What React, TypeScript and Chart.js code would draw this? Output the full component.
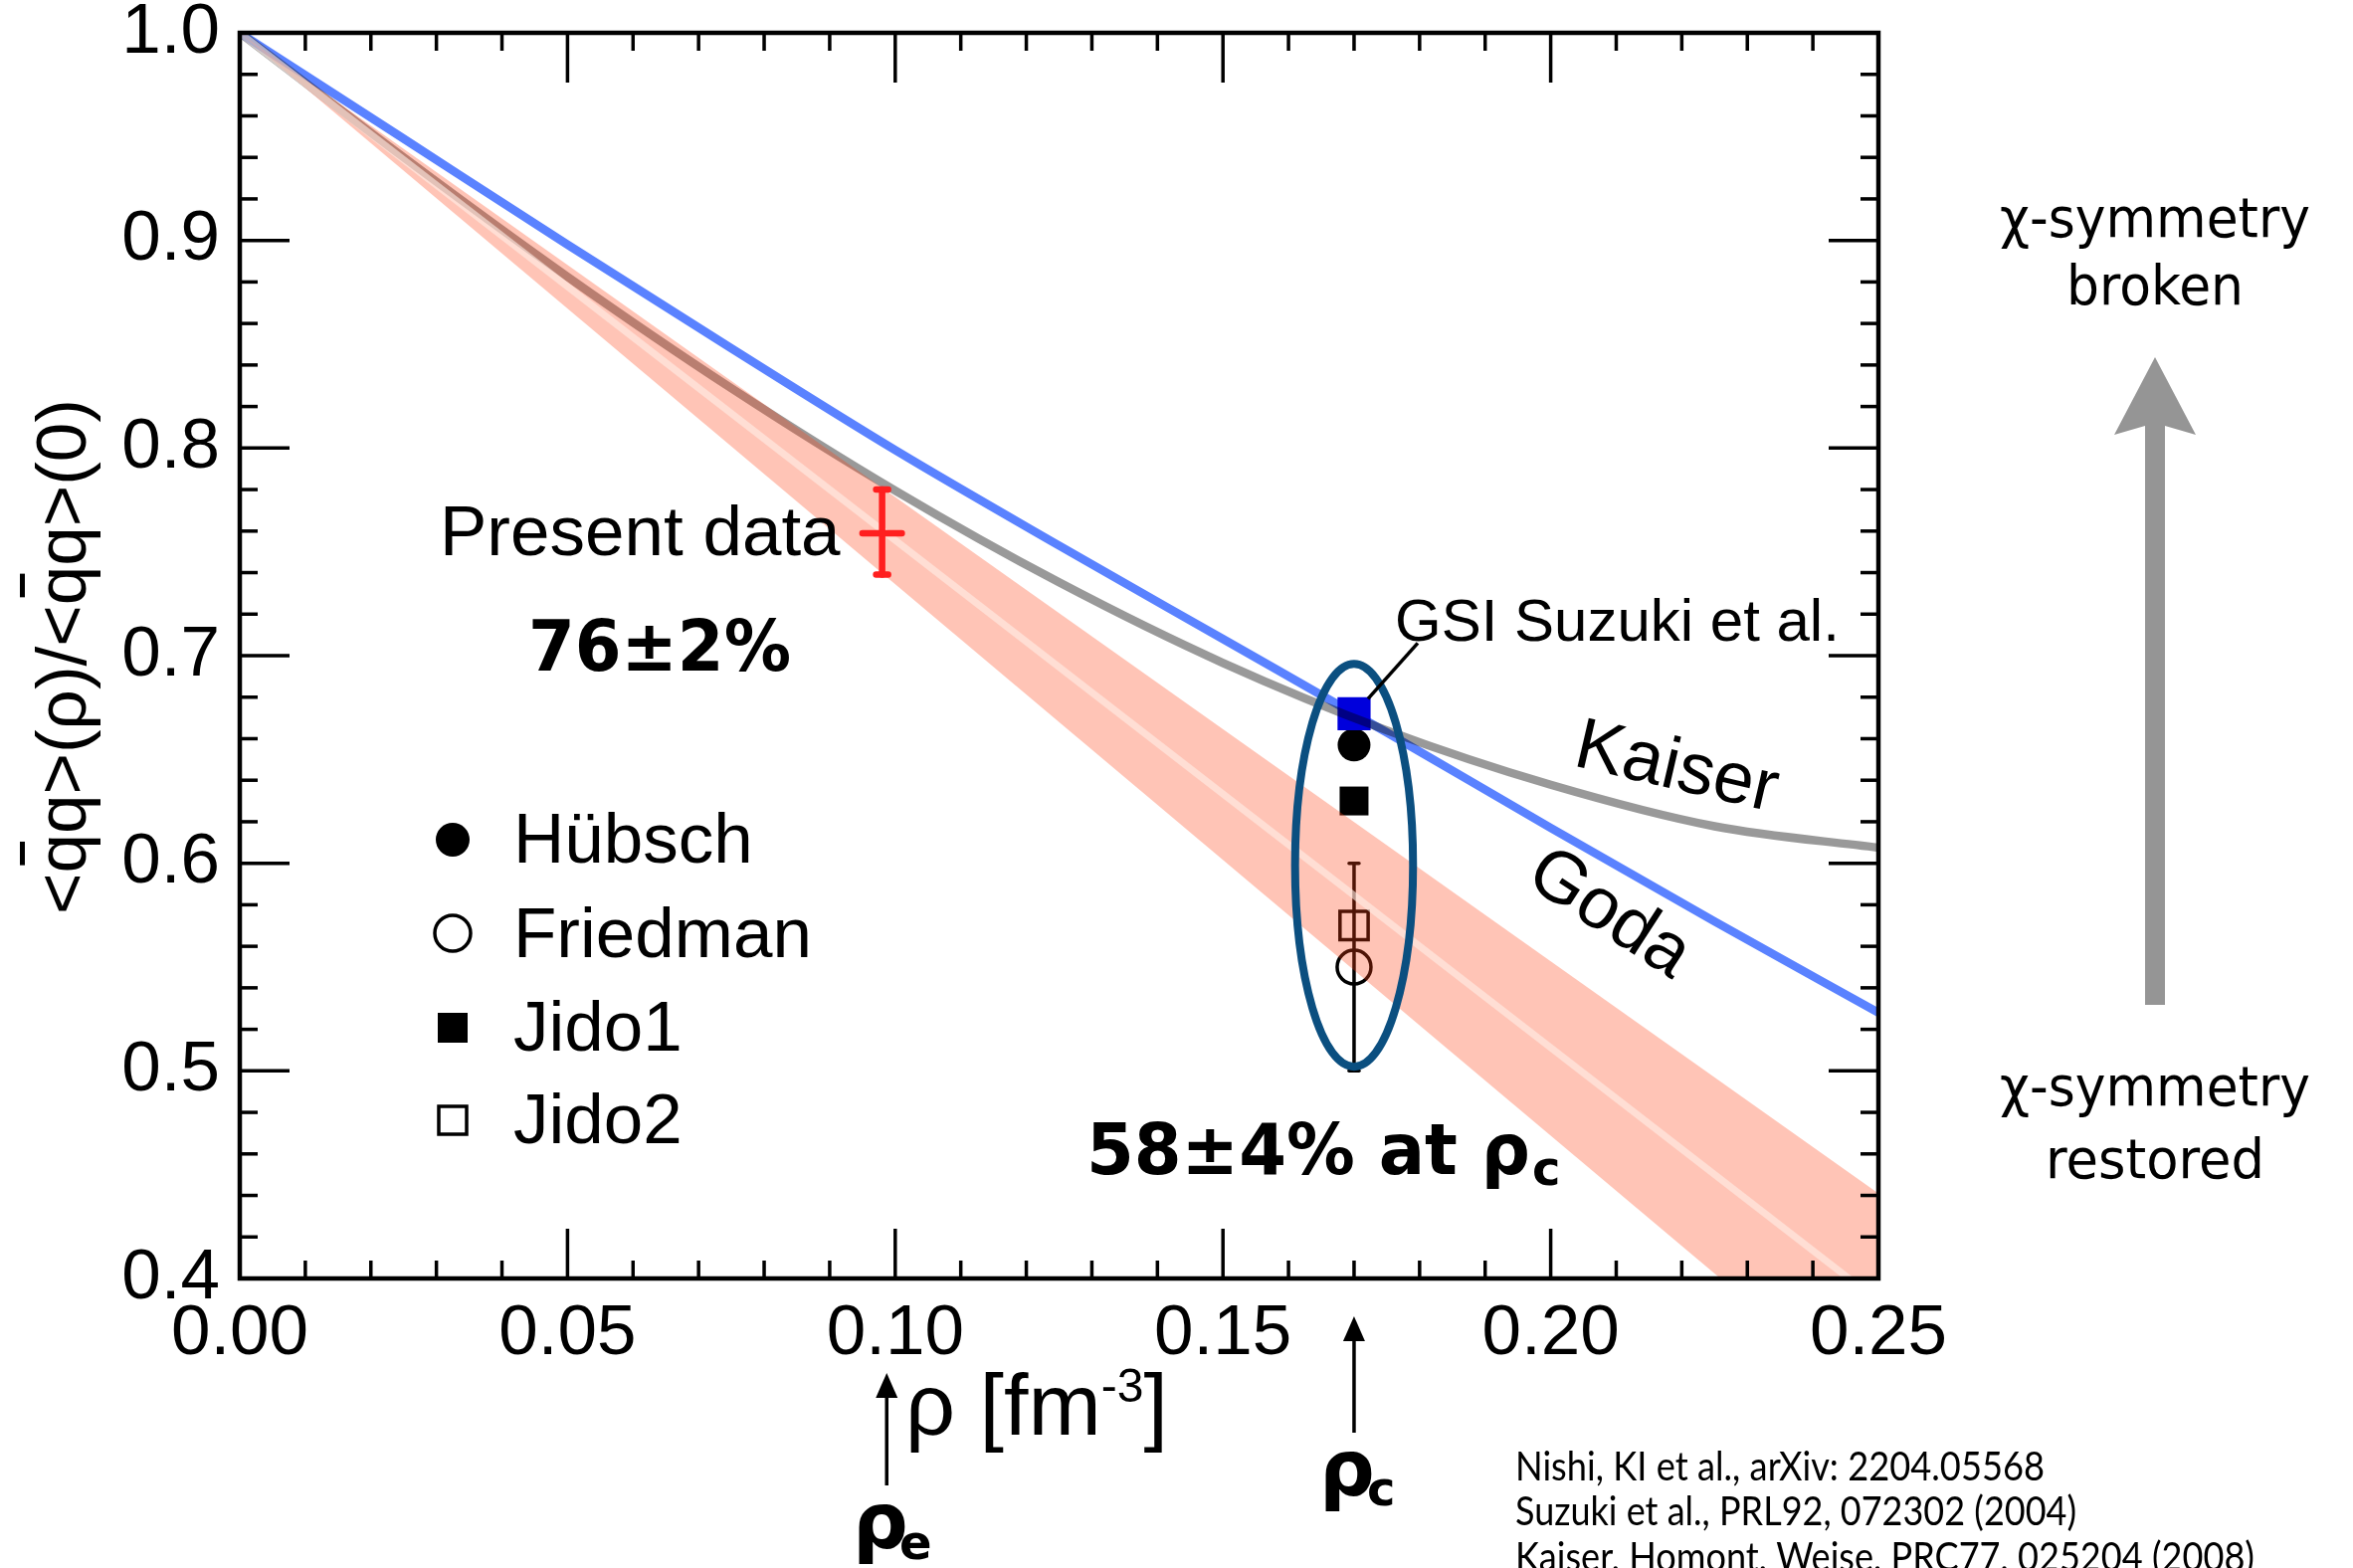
import React, { useEffect, useRef } from 'react';
import { Chart, registerables } from 'chart.js';

Chart.register(...registerables);

// ---------------- data ----------------
const curveRho = [0, 0.025, 0.05, 0.075, 0.1, 0.125, 0.15, 0.175, 0.2, 0.225, 0.25];
const godaValues = [1.0, 0.949, 0.898, 0.848, 0.799, 0.753, 0.708, 0.663, 0.617, 0.572, 0.528];
const kaiserValues = [1.0, 0.94, 0.8825, 0.8288, 0.7795, 0.7353, 0.6965, 0.664, 0.6378, 0.6178, 0.6075];
const bandRho = [0, 0.25];
const bandUpper = [1.0, 0.441];
const bandCenter = [1.0, 0.389];
const bandLower = [1.0, 0.336];
const rhoC = 0.17;
const rhoE = 0.0987;
const gsiSuzuki = [0.672];
const hubsch = [0.657];
const jido1 = [0.63];
const jido2 = [0.57];
const friedman = [0.55];
const friedmanErr = [0.5, 0.6];
const presentData = [0.098, 0.759];
const presentErrRho = [0.095, 0.101];
const presentErrValue = [0.739, 0.78];
const ellipseCenter = [0.17, 0.599];
const ellipseHalf = [0.009, 0.097];
const xTickValues = [0, 0.05, 0.1, 0.15, 0.2, 0.25];
const yTickValues = [0.4, 0.5, 0.6, 0.7, 0.8, 0.9, 1.0];
const xMinorTicks = [0.01, 0.02, 0.03, 0.04, 0.06, 0.07, 0.08, 0.09, 0.11, 0.12, 0.13, 0.14, 0.16, 0.17, 0.18, 0.19, 0.21, 0.22, 0.23, 0.24];
const yMinorTicks = [0.42, 0.44, 0.46, 0.48, 0.52, 0.54, 0.56, 0.58, 0.62, 0.64, 0.66, 0.68, 0.72, 0.74, 0.76, 0.78, 0.82, 0.84, 0.86, 0.88, 0.92, 0.94, 0.96, 0.98];
const legendNames = ['Hübsch', 'Friedman', 'Jido1', 'Jido2'];
const legendKinds = ['circleFilled', 'circleOpen', 'squareFilled', 'squareOpen'];
const references = [
  'Nishi, KI et al., arXiv: 2204.05568',
  'Suzuki et al., PRL92, 072302 (2004)',
  'Kaiser, Homont, Weise, PRC77, 025204 (2008)',
];

const SANS = '"Liberation Sans", Arial, Helvetica, sans-serif';
const BOLD = 'bold 72px "DejaVu Sans", sans-serif';

const pts = (xs: number[], ys: number[]) => xs.map((x, i) => ({ x, y: ys[i] }));

function line(ctx: CanvasRenderingContext2D, x1: number, y1: number, x2: number, y2: number) {
  ctx.beginPath();
  ctx.moveTo(x1, y1);
  ctx.lineTo(x2, y2);
  ctx.stroke();
}

function fitText(ctx: CanvasRenderingContext2D, text: string, x: number, y: number, width: number, font: string, align: CanvasTextAlign = 'left') {
  ctx.save();
  ctx.font = font;
  const w = ctx.measureText(text).width;
  ctx.translate(x, y);
  ctx.scale(width / w, 1);
  ctx.textAlign = align;
  ctx.textBaseline = 'alphabetic';
  ctx.fillText(text, 0, 0);
  ctx.restore();
}

function arrowUp(ctx: CanvasRenderingContext2D, x: number, yTip: number, yBottom: number) {
  ctx.save();
  ctx.strokeStyle = '#000';
  ctx.fillStyle = '#000';
  ctx.lineWidth = 3.5;
  line(ctx, x, yTip + 15, x, yBottom);
  ctx.beginPath();
  ctx.moveTo(x, yTip);
  ctx.lineTo(x - 11, yTip + 25);
  ctx.lineTo(x + 11, yTip + 25);
  ctx.closePath();
  ctx.fill();
  ctx.restore();
}

function marker(ctx: CanvasRenderingContext2D, kind: string, x: number, y: number) {
  ctx.save();
  ctx.fillStyle = '#000';
  ctx.strokeStyle = '#000';
  ctx.lineWidth = 3.5;
  if (kind === 'circleFilled') {
    ctx.beginPath(); ctx.arc(x, y, 17, 0, Math.PI * 2); ctx.fill();
  } else if (kind === 'circleOpen') {
    ctx.beginPath(); ctx.arc(x, y, 18, 0, Math.PI * 2); ctx.stroke();
  } else if (kind === 'squareFilled') {
    ctx.fillRect(x - 15, y - 15, 30, 30);
  } else {
    ctx.strokeRect(x - 14, y - 14, 28, 28);
  }
  ctx.restore();
}

const overlay = {
  id: 'overlay',
  beforeDatasetsDraw(chart: any) {
    const ctx: CanvasRenderingContext2D = chart.ctx;
    const xs = chart.scales.x;
    const ys = chart.scales.y;
    const x = xs.getPixelForValue(rhoC);
    const y0 = ys.getPixelForValue(friedmanErr[0]);
    const y1 = ys.getPixelForValue(friedmanErr[1]);
    ctx.save();
    ctx.strokeStyle = '#000';
    ctx.lineWidth = 3.5;
    ctx.lineCap = 'round';
    line(ctx, x, y0, x, y1);
    line(ctx, x - 5, y0, x + 5, y0);
    line(ctx, x - 5, y1, x + 5, y1);
    ctx.restore();
  },
  afterDatasetsDraw(chart: any) {
    const ctx: CanvasRenderingContext2D = chart.ctx;
    const xs = chart.scales.x;
    const ys = chart.scales.y;
    // ellipse
    const cx = xs.getPixelForValue(ellipseCenter[0]);
    const cy = ys.getPixelForValue(ellipseCenter[1]);
    const rx = xs.getPixelForValue(ellipseCenter[0] + ellipseHalf[0]) - cx;
    const ry = ys.getPixelForValue(ellipseCenter[1] - ellipseHalf[1]) - cy;
    ctx.save();
    ctx.strokeStyle = '#0b4f80';
    ctx.lineWidth = 8;
    ctx.beginPath();
    ctx.ellipse(cx, cy, rx, ry, 0, 0, Math.PI * 2);
    ctx.stroke();
    // present data (red)
    ctx.strokeStyle = '#ff1f1f';
    ctx.lineWidth = 6.5;
    ctx.lineCap = 'round';
    const px = xs.getPixelForValue(presentData[0]);
    const py = ys.getPixelForValue(presentData[1]);
    const pyLo = ys.getPixelForValue(presentErrValue[0]);
    const pyHi = ys.getPixelForValue(presentErrValue[1]);
    line(ctx, px, pyLo, px, pyHi);
    line(ctx, px - 6, pyLo, px + 6, pyLo);
    line(ctx, px - 6, pyHi, px + 6, pyHi);
    line(ctx, xs.getPixelForValue(presentErrRho[0]), py, xs.getPixelForValue(presentErrRho[1]), py);
    // GSI pointer
    const gx = xs.getPixelForValue(rhoC);
    const gy = ys.getPixelForValue(gsiSuzuki[0]);
    ctx.strokeStyle = '#000';
    ctx.lineWidth = 3.5;
    ctx.lineCap = 'butt';
    line(ctx, gx + 14, gy - 15, gx + 64, gy - 71);
    ctx.restore();
  },
  afterDraw(chart: any) {
    const ctx: CanvasRenderingContext2D = chart.ctx;
    const xs = chart.scales.x;
    const ys = chart.scales.y;
    const { left, right, top, bottom } = chart.chartArea;
    ctx.save();
    // frame
    ctx.strokeStyle = '#000';
    ctx.lineWidth = 4.5;
    ctx.strokeRect(left, top, right - left, bottom - top);
    ctx.lineWidth = 3.5;
    for (const v of xTickValues) {
      const p = xs.getPixelForValue(v);
      line(ctx, p, bottom, p, bottom - 50);
      line(ctx, p, top, p, top + 50);
    }
    for (const v of xMinorTicks) {
      const p = xs.getPixelForValue(v);
      line(ctx, p, bottom, p, bottom - 18);
      line(ctx, p, top, p, top + 18);
    }
    for (const v of yTickValues) {
      const p = ys.getPixelForValue(v);
      line(ctx, left, p, left + 50, p);
      line(ctx, right, p, right - 50, p);
    }
    for (const v of yMinorTicks) {
      const p = ys.getPixelForValue(v);
      line(ctx, left, p, left + 18, p);
      line(ctx, right, p, right - 18, p);
    }

    ctx.fillStyle = '#000';
    ctx.textBaseline = 'alphabetic';
    ctx.textAlign = 'left';

    // y title with overlines
    ctx.save();
    ctx.translate(86, 660);
    ctx.rotate(-Math.PI / 2);
    ctx.font = `71px ${SANS}`;
    const yt = '<qq>(ρ)/<qq>(0)';
    const W = ctx.measureText(yt).width;
    const x0 = -W / 2;
    ctx.fillText(yt, x0, 0);
    for (const idx of [1, 9]) {
      const a = ctx.measureText(yt.slice(0, idx)).width;
      const b = ctx.measureText(yt.slice(0, idx + 1)).width;
      ctx.fillRect(x0 + a + 0.2 * (b - a), -66, 0.6 * (b - a), 5);
    }
    ctx.restore();

    // x title
    ctx.font = `88px ${SANS}`;
    let tx = 910;
    ctx.fillText('ρ [fm', tx, 1442);
    tx += ctx.measureText('ρ [fm').width;
    ctx.font = `48px ${SANS}`;
    ctx.fillText('-3', tx, 1409);
    tx += ctx.measureText('-3').width;
    ctx.font = `88px ${SANS}`;
    ctx.fillText(']', tx, 1442);

    // arrows below axis
    arrowUp(ctx, xs.getPixelForValue(rhoE), 1380, 1493);
    arrowUp(ctx, xs.getPixelForValue(rhoC), 1323, 1440);
    ctx.font = 'bold 78px "DejaVu Sans", sans-serif';
    ctx.fillText('ρ', 857, 1556);
    ctx.fillText('ρ', 1326, 1503);
    ctx.font = 'bold 48px "DejaVu Sans", sans-serif';
    ctx.fillText('e', 904, 1567);
    ctx.fillText('c', 1374, 1513);

    // in-plot annotations
    ctx.font = `71px ${SANS}`;
    ctx.fillText('Present data', 442, 558);
    fitText(ctx, '76±2%', 531, 674, 264, BOLD);
    fitText(ctx, '58±4% at ρ', 1092, 1180, 446, BOLD);
    ctx.font = 'bold 48px "DejaVu Sans", sans-serif';
    ctx.fillText('c', 1540, 1191);
    ctx.font = `60px ${SANS}`;
    ctx.fillText('GSI Suzuki et al.', 1402, 644);

    // rotated curve labels
    ctx.font = `73px ${SANS}`;
    ctx.textAlign = 'center';
    ctx.textBaseline = 'middle';
    ctx.save();
    ctx.translate(1685, 773);
    ctx.rotate((13 * Math.PI) / 180);
    ctx.fillText('Kaiser', 0, 0);
    ctx.restore();
    ctx.save();
    ctx.translate(1617, 919);
    ctx.rotate((33 * Math.PI) / 180);
    ctx.fillText('Goda', 0, 0);
    ctx.restore();
    ctx.textAlign = 'left';
    ctx.textBaseline = 'alphabetic';

    // legend
    const legendY = [844, 938, 1033, 1126];
    const legendBase = [867, 962, 1056, 1149];
    ctx.font = `71px ${SANS}`;
    legendNames.forEach((name, i) => {
      marker(ctx, legendKinds[i], 455, legendY[i]);
      ctx.fillStyle = '#000';
      ctx.fillText(name, 516, legendBase[i]);
    });

    // right-hand annotation
    const RF = '56px "DejaVu Sans", sans-serif';
    fitText(ctx, 'χ-symmetry', 2166, 238, 312, RF, 'center');
    fitText(ctx, 'broken', 2166, 306, 178, RF, 'center');
    fitText(ctx, 'χ-symmetry', 2166, 1111, 312, RF, 'center');
    fitText(ctx, 'restored', 2166, 1184, 220, RF, 'center');
    ctx.fillStyle = '#959595';
    ctx.beginPath();
    ctx.moveTo(2166, 359);
    ctx.lineTo(2207, 437);
    ctx.lineTo(2176, 428);
    ctx.lineTo(2176, 1010);
    ctx.lineTo(2156, 1010);
    ctx.lineTo(2156, 428);
    ctx.lineTo(2125, 437);
    ctx.closePath();
    ctx.fill();

    // references
    ctx.fillStyle = '#000';
    const refW = [532, 564, 743];
    const refY = [1488, 1533, 1579];
    references.forEach((r, i) => fitText(ctx, r, 1523, refY[i], refW[i], '41px Lato, "DejaVu Sans", sans-serif'));
    ctx.restore();
  },
};

export default function App() {
  const ref = useRef<HTMLCanvasElement | null>(null);
  useEffect(() => {
    if (!ref.current) return;
    const open = 'rgba(0,0,0,0)';
    const chart = new Chart(ref.current, {
      type: 'line',
      data: {
        datasets: [
          { label: 'band centre', data: pts(bandRho, bandCenter), borderColor: 'rgba(255,238,232,0.6)', borderWidth: 7, pointRadius: 0, fill: false, order: 1 },
          { label: 'band upper', data: pts(bandRho, bandUpper), borderWidth: 0, borderColor: 'rgba(0,0,0,0)', pointRadius: 0, backgroundColor: 'rgba(255,65,19,0.31)', fill: '+1', order: 2 },
          { label: 'band lower', data: pts(bandRho, bandLower), borderWidth: 0, borderColor: 'rgba(0,0,0,0)', pointRadius: 0, fill: false, order: 3 },
          { label: 'Kaiser', data: pts(curveRho, kaiserValues), borderColor: 'rgba(0,0,0,0.4)', borderWidth: 8.5, pointRadius: 0, cubicInterpolationMode: 'monotone', fill: false, order: 4 },
          { label: 'GSI Suzuki et al.', data: [{ x: rhoC, y: gsiSuzuki[0] }], showLine: false, pointStyle: 'rect', pointRadius: 23.5, backgroundColor: '#0000dc', borderColor: '#0000dc', borderWidth: 0, order: 5 },
          { label: 'Goda', data: pts(curveRho, godaValues), borderColor: '#5a82ff', borderWidth: 8.5, pointRadius: 0, cubicInterpolationMode: 'monotone', fill: false, order: 6 },
          { label: 'Hübsch', data: [{ x: rhoC, y: hubsch[0] }], showLine: false, pointStyle: 'circle', pointRadius: 16.5, backgroundColor: '#000', borderColor: '#000', borderWidth: 0, order: 7 },
          { label: 'Jido1', data: [{ x: rhoC, y: jido1[0] }], showLine: false, pointStyle: 'rect', pointRadius: 20.5, backgroundColor: '#000', borderColor: '#000', borderWidth: 0, order: 8 },
          { label: 'Jido2', data: [{ x: rhoC, y: jido2[0] }], showLine: false, pointStyle: 'rect', pointRadius: 20, backgroundColor: open, borderColor: '#000', borderWidth: 3.5, order: 9 },
          { label: 'Friedman', data: [{ x: rhoC, y: friedman[0] }], showLine: false, pointStyle: 'circle', pointRadius: 17, backgroundColor: open, borderColor: '#000', borderWidth: 3.5, order: 10 },
        ],
      },
      options: {
        animation: false,
        responsive: false,
        devicePixelRatio: 1,
        events: [],
        layout: { padding: { left: 0, top: 33, right: 477, bottom: 0 } },
        plugins: { legend: { display: false }, tooltip: { enabled: false } },
        scales: {
          x: {
            type: 'linear',
            min: 0,
            max: 0.25,
            afterBuildTicks: (s: any) => { s.ticks = xTickValues.map((v) => ({ value: v })); },
            afterFit: (s: any) => { s.height = 291; s.paddingLeft = 0; s.paddingRight = 0; },
            ticks: { font: { family: SANS, size: 71 }, color: '#000', padding: 14, maxRotation: 0, autoSkip: false, callback: (v: any) => Number(v).toFixed(2) },
            grid: { display: false, drawTicks: false },
            border: { display: false },
          },
          y: {
            type: 'linear',
            min: 0.4,
            max: 1.0,
            afterBuildTicks: (s: any) => { s.ticks = yTickValues.map((v) => ({ value: v })); },
            afterFit: (s: any) => { s.width = 241; s.paddingTop = 0; s.paddingBottom = 0; },
            ticks: { font: { family: SANS, size: 71 }, color: '#000', padding: 20, autoSkip: false, callback: (v: any) => Number(v).toFixed(1) },
            grid: { display: false, drawTicks: false },
            border: { display: false },
          },
        },
      },
      plugins: [overlay],
    } as any);
    return () => chart.destroy();
  }, []);
  return (
    <div style={{ position: 'absolute', left: 0, top: 0, width: 2365, height: 1576, background: '#fff', overflow: 'hidden' }}>
      <canvas ref={ref} width={2365} height={1576} style={{ display: 'block', width: 2365, height: 1576 }} />
    </div>
  );
}
